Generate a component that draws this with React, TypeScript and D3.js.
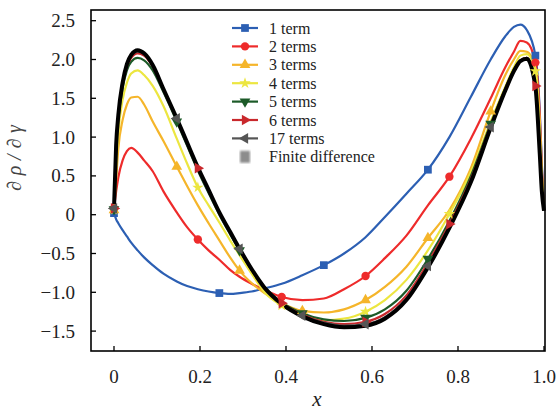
import React, { useEffect, useRef } from 'react';
import * as d3 from 'd3';

// shared x positions of the sampled curves
const xGrid = [
  0, 0.005, 0.01, 0.02, 0.03, 0.04, 0.055, 0.07, 0.09, 0.115, 0.146, 0.17, 0.195, 0.22, 0.245, 0.27, 0.292, 0.32,
  0.35, 0.39, 0.438, 0.488, 0.535, 0.585, 0.63, 0.68, 0.73, 0.78, 0.83, 0.876, 0.91, 0.93, 0.945, 0.96, 0.98, 0.99,
  0.995, 1.0,
];

const term1 = [
  0.02, -0.06, -0.11, -0.2, -0.28, -0.36, -0.46, -0.55, -0.65, -0.76, -0.86, -0.92, -0.96, -0.99, -1.01, -1.02, -1.01,
  -0.99, -0.95, -0.89, -0.78, -0.65, -0.5, -0.29, -0.03, 0.27, 0.58, 1.0, 1.52, 2.0, 2.3, 2.42, 2.45, 2.38, 2.05, 1.35,
  0.65, 0.05,
];
const term2 = [
  0.08, 0.3, 0.48, 0.7, 0.82, 0.86, 0.8, 0.7, 0.56, 0.3, 0.03, -0.16, -0.32, -0.46, -0.58, -0.71, -0.8, -0.89, -0.97,
  -1.06, -1.1, -1.08, -0.96, -0.79, -0.56, -0.27, 0.12, 0.49, 0.98, 1.5, 1.9, 2.1, 2.24, 2.22, 1.96, 1.3, 0.6, 0.05,
];
const term3 = [
  0.06, 0.45, 0.85, 1.22, 1.42, 1.51, 1.52, 1.42, 1.2, 0.95, 0.62, 0.37, 0.12, -0.11, -0.33, -0.55, -0.72, -0.88, -1.01,
  -1.14, -1.24, -1.26, -1.22, -1.1, -0.93, -0.67, -0.3, 0.06, 0.6, 1.33, 1.8, 2.0, 2.11, 2.1, 1.88, 1.2, 0.55, 0.05,
];
const term4 = [
  0.06, 0.6, 1.05, 1.48, 1.7, 1.82, 1.86, 1.8, 1.66, 1.4, 0.98, 0.66, 0.35, 0.12, -0.1, -0.33, -0.52, -0.76, -1.0,
  -1.17, -1.3, -1.36, -1.34, -1.25, -1.1, -0.84, -0.46, 0.01, 0.55, 1.2, 1.65, 1.9, 2.05, 2.07, 1.85, 1.1, 0.5, 0.05,
];
const term5 = [
  0.07, 0.85, 1.22, 1.63, 1.86, 1.97, 2.02, 1.99, 1.86, 1.58, 1.2, 0.89, 0.57, 0.28, 0.0, -0.25, -0.46, -0.71, -0.93,
  -1.13, -1.27, -1.35, -1.37, -1.33, -1.22, -0.98, -0.57, -0.08, 0.5, 1.17, 1.63, 1.87, 1.99, 2.02, 1.68, 0.85, 0.32,
  0.05,
];
const term6 = [
  0.08, 0.88, 1.26, 1.67, 1.91, 2.02, 2.08, 2.05, 1.91, 1.61, 1.23, 0.92, 0.6, 0.31, 0.02, -0.23, -0.45, -0.71, -0.94,
  -1.14, -1.29, -1.38, -1.41, -1.38, -1.28, -1.04, -0.62, -0.12, 0.46, 1.15, 1.62, 1.86, 1.99, 2.02, 1.66, 0.82, 0.31,
  0.05,
];
const term17 = [
  0.08, 0.9, 1.28, 1.7, 1.93, 2.05, 2.1, 2.07, 1.92, 1.62, 1.24, 0.93, 0.61, 0.32, 0.03, -0.22, -0.44, -0.7, -0.94,
  -1.15, -1.3, -1.39, -1.43, -1.41, -1.32, -1.08, -0.66, -0.15, 0.43, 1.13, 1.6, 1.85, 1.98, 2.01, 1.65, 0.8, 0.3, 0.05,
];
const finiteDiff = [
  0.08, 0.9, 1.28, 1.7, 1.94, 2.06, 2.12, 2.08, 1.93, 1.62, 1.24, 0.93, 0.61, 0.32, 0.03, -0.22, -0.44, -0.7, -0.94,
  -1.15, -1.31, -1.41, -1.45, -1.43, -1.34, -1.1, -0.68, -0.17, 0.42, 1.12, 1.6, 1.85, 1.98, 2.01, 1.65, 0.8, 0.3, 0.05,
];

const marksA = [0, 0.245, 0.488, 0.73, 0.98];
const marksB = [0, 0.195, 0.39, 0.585, 0.78, 0.98];
const marksC = [0, 0.146, 0.292, 0.438, 0.585, 0.73, 0.876];

const xTicks = [0, 0.2, 0.4, 0.6, 0.8, 1.0];
const xTickLabels = ['0', '0.2', '0.4', '0.6', '0.8', '1.0'];
const yTicks = [-1.5, -1.0, -0.5, 0, 0.5, 1.0, 1.5, 2.0, 2.5];
const yTickLabels = ['\u22121.5', '\u22121.0', '\u22120.5', '0', '0.5', '1.0', '1.5', '2.0', '2.5'];

const series = [
  { name: '1 term', values: term1, color: '#2c5fb3', symbol: d3.symbolSquare, size: 60, rot: 0, marks: marksA },
  { name: '2 terms', values: term2, color: '#ee2b2b', symbol: d3.symbolCircle, size: 55, rot: 0, marks: marksB },
  { name: '3 terms', values: term3, color: '#f5b52a', symbol: d3.symbolTriangle, size: 50, rot: 0, marks: marksC },
  { name: '4 terms', values: term4, color: '#ece640', symbol: d3.symbolStar, size: 40, rot: 0, marks: marksB },
  { name: '5 terms', values: term5, color: '#1c5a28', symbol: d3.symbolTriangle, size: 50, rot: 180, marks: marksC },
  { name: '6 terms', values: term6, color: '#c9282c', symbol: d3.symbolTriangle, size: 50, rot: 90, marks: marksB },
  { name: '17 terms', values: term17, color: '#555555', symbol: d3.symbolTriangle, size: 50, rot: -90, marks: marksC },
];

const FONT = "'Liberation Serif', 'DejaVu Serif', serif";

export default function App() {
  const ref = useRef<SVGSVGElement>(null);

  useEffect(() => {
    const svg = d3.select(ref.current);
    svg.selectAll('*').remove();

    const left = 91, right = 545, top = 10, bottom = 351;
    const x = d3.scaleLinear().domain([0, 1]).range([114, 544]);
    const y = d3.scaleLinear().domain([0, 2.5]).range([214.7, 20.7]);

    const defs = svg.append('defs');
    defs.append('filter').attr('id', 'blur').append('feGaussianBlur').attr('stdDeviation', 1.3);

    svg.append('rect').attr('width', 559).attr('height', 412).attr('fill', 'white');

    const line = d3
      .line<number>()
      .x((d, i) => x(xGrid[i]))
      .y((d) => y(d))
      .curve(d3.curveMonotoneX);

    const plot = svg.append('g');
    series.forEach((s) => {
      plot
        .append('path')
        .attr('d', line(s.values))
        .attr('fill', 'none')
        .attr('stroke', s.color)
        .attr('stroke-width', 2.2);
    });

    // finite difference: dense black scatter, drawn as a thick band
    plot
      .append('path')
      .attr('d', line(finiteDiff))
      .attr('fill', 'none')
      .attr('stroke', '#000')
      .attr('stroke-width', 4)
      .attr('stroke-linejoin', 'round');

    series.forEach((s) => {
      const sym = d3.symbol().type(s.symbol).size(s.size);
      s.marks.forEach((mx) => {
        const i = xGrid.indexOf(mx);
        plot
          .append('path')
          .attr('d', sym())
          .attr('fill', s.color)
          .attr('transform', `translate(${x(mx)},${y(s.values[i])}) rotate(${s.rot})`);
      });
    });

    // frame and inward ticks
    svg
      .append('rect')
      .attr('x', left)
      .attr('y', top)
      .attr('width', right - left)
      .attr('height', bottom - top)
      .attr('fill', 'none')
      .attr('stroke', '#000')
      .attr('stroke-width', 1.6);

    const txt = (g: any) => g.style('font-family', FONT).attr('fill', '#222');

    yTicks.forEach((t, i) => {
      svg.append('line').attr('x1', left).attr('x2', left + 5).attr('y1', y(t)).attr('y2', y(t)).attr('stroke', '#000').attr('stroke-width', 1.3);
      svg
        .append('text')
        .call(txt)
        .attr('x', 75)
        .attr('y', y(t))
        .attr('dy', '0.34em')
        .attr('text-anchor', 'end')
        .style('font-size', '19px')
        .text(yTickLabels[i]);
    });
    xTicks.forEach((t, i) => {
      svg.append('line').attr('x1', x(t)).attr('x2', x(t)).attr('y1', bottom).attr('y2', bottom - 5).attr('stroke', '#000').attr('stroke-width', 1.3);
      svg
        .append('text')
        .call(txt)
        .attr('x', x(t))
        .attr('y', 383)
        .attr('text-anchor', 'middle')
        .style('font-size', '19px')
        .text(xTickLabels[i]);
    });

    svg
      .append('text')
      .call(txt)
      .attr('x', 317)
      .attr('y', 406)
      .attr('text-anchor', 'middle')
      .style('font-style', 'italic')
      .style('font-size', '21px')
      .text('x');
    svg
      .append('text')
      .call(txt)
      .attr('transform', 'translate(21,158) rotate(-90)')
      .attr('text-anchor', 'middle')
      .style('font-style', 'italic')
      .style('font-size', '20px')
      .attr('fill', '#444')
      .attr('textLength', 66)
      .attr('lengthAdjust', 'spacing')
      .text('\u2202\u03c1/\u2202\u03b3');

    // legend
    const lg = svg.append('g');
    const rowY = (i: number) => 28 + i * 18.4;
    series.forEach((s, i) => {
      const cy = rowY(i);
      lg.append('line').attr('x1', 232).attr('x2', 258).attr('y1', cy).attr('y2', cy).attr('stroke', s.color).attr('stroke-width', 2.2);
      lg.append('path')
        .attr('d', d3.symbol().type(s.symbol).size(s.size)())
        .attr('fill', s.color)
        .attr('transform', `translate(245,${cy}) rotate(${s.rot})`);
      lg.append('text')
        .call(txt)
        .attr('x', 269)
        .attr('y', cy)
        .attr('dy', '0.35em')
        .style('font-size', '16px')
        .text(s.name);
    });
    const fy = rowY(series.length);
    lg.append('rect')
      .attr('x', 240)
      .attr('y', fy - 6)
      .attr('width', 10)
      .attr('height', 12)
      .attr('fill', '#8c8c8c')
      .attr('filter', 'url(#blur)');
    lg.append('text')
      .call(txt)
      .attr('x', 269)
      .attr('y', fy)
      .attr('dy', '0.35em')
      .style('font-size', '16px')
      .text('Finite difference');
  }, []);

  return <svg ref={ref} width={559} height={412} style={{ position: 'absolute', left: 0, top: 0 }} />;
}
